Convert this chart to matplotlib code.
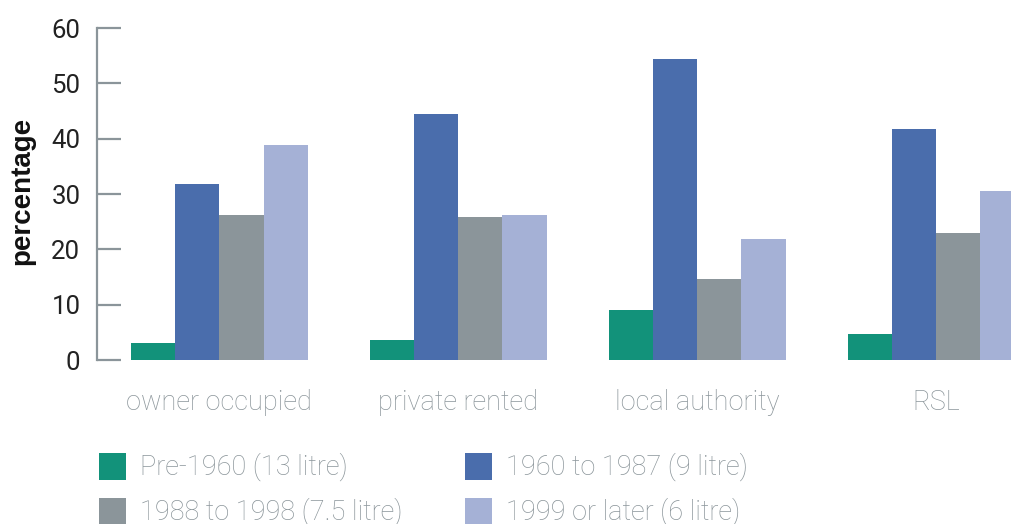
import matplotlib
matplotlib.use("Agg")
import matplotlib.pyplot as plt
import numpy as np
from matplotlib.patches import Rectangle

categories = ["owner occupied", "private rented", "local authority", "RSL"]
series = ["Pre-1960 (13 litre)", "1960 to 1987 (9 litre)",
          "1988 to 1998 (7.5 litre)", "1999 or later (6 litre)"]
pre1960 = [3.1, 3.6, 9.0, 4.7]
y1960_1987 = [31.8, 44.5, 54.4, 41.7]
y1988_1998 = [26.2, 25.8, 14.6, 23.0]
y1999_later = [38.9, 26.2, 21.9, 30.5]
values = [pre1960, y1960_1987, y1988_1998, y1999_later]
colors = ["#12927a", "#4a6dac", "#8b959a", "#a5b1d6"]
yticks = [0, 10, 20, 30, 40, 50, 60]

W, H = 1011, 524
fig = plt.figure(figsize=(W / 100, H / 100), dpi=100)
ax = fig.add_axes([97 / W, 164 / H, (W - 97) / W, 332 / H])

light = dict(family=["Roboto", "DejaVu Sans"], weight="light")
gray_txt = "#8b959a"

x = np.arange(len(categories))
bw = 0.185
for i, (vals, c) in enumerate(zip(values, colors)):
    ax.bar(x + (i - 1.5) * bw, vals, width=bw, color=c, linewidth=0)

ax.set_xlim(-0.5125, 3.314)
ax.set_ylim(0, 60)
ax.set_yticks(yticks)
ax.set_yticklabels([str(t) for t in yticks], fontsize=18.5, color="#222222",
                   family=["Roboto", "DejaVu Sans"])
ax.tick_params(axis="y", direction="in", length=17, width=1.6, color=gray_txt, pad=12)
ax.set_xticks(x)
ax.set_xticklabels(categories, fontsize=19.5, color=gray_txt, **light)
ax.tick_params(axis="x", length=0, pad=21)
for s in ["top", "right", "bottom"]:
    ax.spines[s].set_visible(False)
ax.spines["left"].set_color(gray_txt)
ax.spines["left"].set_linewidth(1.6)

ax.set_ylabel("percentage", fontsize=20, fontweight="bold", color="#111111",
              family=["Liberation Sans", "DejaVu Sans"])
ax.yaxis.set_label_coords(-0.068, 0.51)

# legend (manual layout)
leg_x = [99, 465]
leg_y = [453, 498]
sq = 27
for k, (lab, c) in enumerate(zip(series, colors)):
    col, row = k % 2, k // 2
    x0, y0 = leg_x[col], leg_y[row]
    fig.add_artist(Rectangle((x0 / W, 1 - (y0 + sq) / H), sq / W, sq / H,
                             transform=fig.transFigure, color=c, linewidth=0))
    fig.text((x0 + 41) / W, 1 - (y0 + sq / 2) / H, lab, fontsize=19.5,
             color=gray_txt, va="center", ha="left", **light)

fig.savefig("out.png", dpi=100)
